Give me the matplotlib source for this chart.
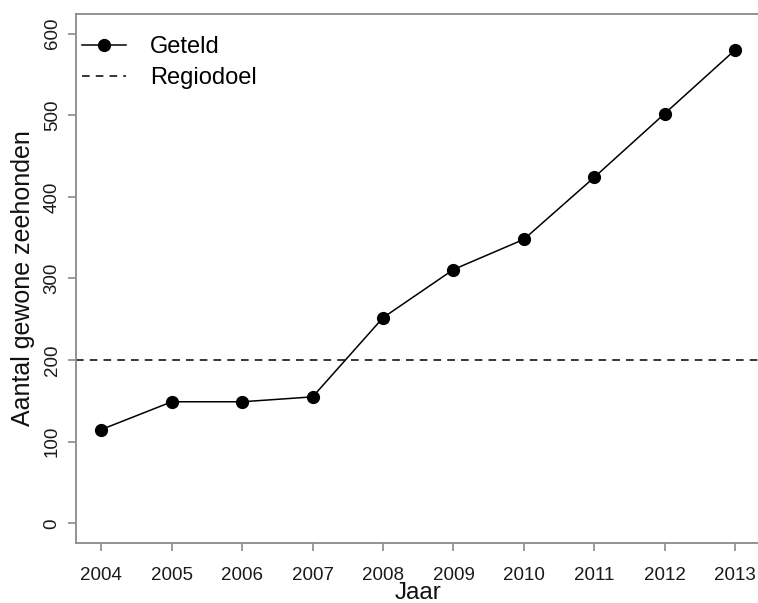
import matplotlib.pyplot as plt

plt.rcParams['font.family'] = ['Liberation Sans', 'DejaVu Sans']

# tellingen gewone zeehonden per jaar
jaren = [2004, 2005, 2006, 2007, 2008, 2009, 2010, 2011, 2012, 2013]
geteld = [115, 149, 149, 155, 252, 311, 348, 424, 502, 580]
regiodoel = 200

yticks = [0, 100, 200, 300, 400, 500, 600]

fig = plt.figure(figsize=(7.58, 6.03), dpi=100)
ax = fig.add_axes([0.1003, 0.0995, 0.903, 0.8773])

ax.plot(jaren, geteld, color='black', lw=1.1, marker='o', ms=8.5,
        label='Geteld')
ax.axhline(regiodoel, color='black', lw=1.1, linestyle=(0, (5, 4)),
           label='Regiodoel')

ax.set_xlim(2004 - 0.36, 2013 + 0.36)
ax.set_ylim(-24, 624)
ax.set_xticks(jaren)
ax.set_yticks(yticks)

grijs = '#8a8a8a'
for s in ax.spines.values():
    s.set_color(grijs)
    s.set_linewidth(1.3)
ax.tick_params(axis='both', colors=grijs, length=6, width=1.2,
               labelsize=13.5, labelcolor='#1a1a1a')
ax.tick_params(axis='x', pad=11)
ax.tick_params(axis='y', pad=5)
for lab in ax.get_yticklabels():
    lab.set_rotation(90)
    lab.set_va('center')

ax.set_xlabel('Jaar', fontsize=17.5, color='#111111', labelpad=-1)
ax.set_ylabel('Aantal gewone zeehonden', fontsize=18, color='#111111',
              labelpad=6)

ax.legend(loc='upper left', bbox_to_anchor=(-0.016, 0.99), frameon=False,
          fontsize=17, handlelength=1.9, handletextpad=1.0,
          labelspacing=0.38, borderaxespad=0.3)

fig.savefig('out.png', dpi=100)
